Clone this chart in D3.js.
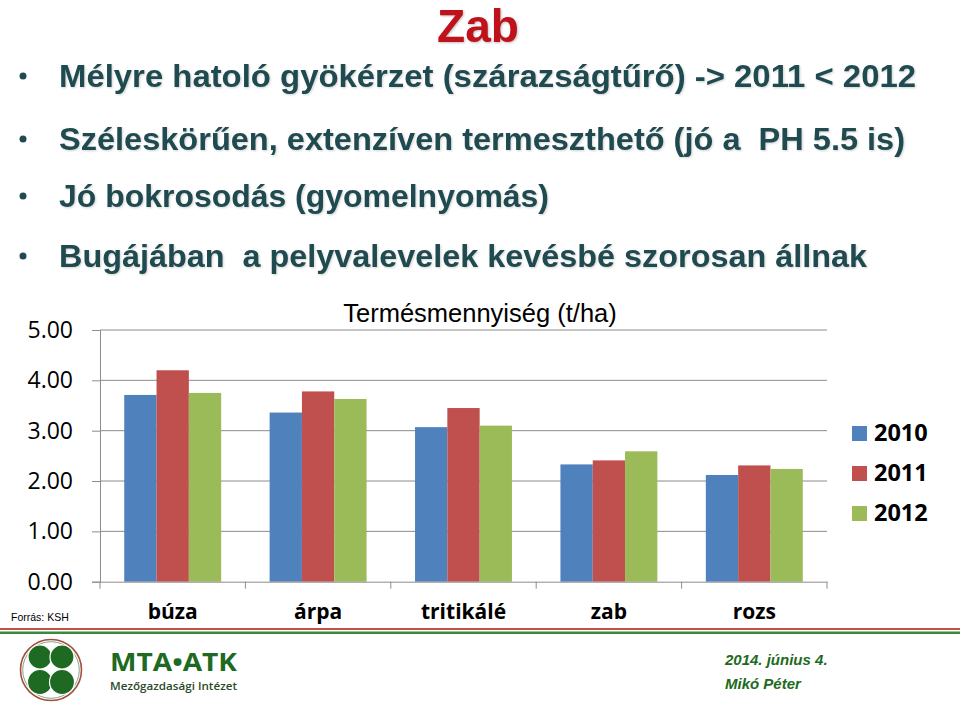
<!DOCTYPE html>
<html>
<head>
<meta charset="utf-8">
<script src="https://cdnjs.cloudflare.com/ajax/libs/d3/7.8.5/d3.min.js"></script>
<style>
  html, body { margin: 0; padding: 0; background: #fff; }
  svg { display: block; }
</style>
</head>
<body>
<svg id="chart" width="960" height="705"></svg>
<script>
// ---- data ----
const categories = ["búza", "árpa", "tritikálé", "zab", "rozs"];
const years = ["2010", "2011", "2012"];
const v2010 = [3.71, 3.36, 3.07, 2.33, 2.12];
const v2011 = [4.20, 3.78, 3.45, 2.41, 2.31];
const v2012 = [3.75, 3.63, 3.10, 2.59, 2.24];
const yTicks = [0, 1, 2, 3, 4, 5];
const colors = ["#4F81BD", "#C0504D", "#9BBB59"];
const chartTitle = "Termésmennyiség (t/ha)";
const slideTitle = "Zab";
const bullets = [
  "Mélyre hatoló gyökérzet (szárazságtűrő) -> 2011 < 2012",
  "Széleskörűen, extenzíven termeszthető (jó a  PH 5.5 is)",
  "Jó bokrosodás (gyomelnyomás)",
  "Bugájában  a pelyvalevelek kevésbé szorosan állnak"
];
const source = "Forrás: KSH";

const seriesValues = [v2010, v2011, v2012];

const svg = d3.select("#chart");

// ---- slide title ----
svg.append("text")
  .attr("x", 478).attr("y", 42)
  .attr("text-anchor", "middle")
  .style("font-family", "'Liberation Sans', Arial, sans-serif")
  .style("font-weight", "bold")
  .style("font-size", "46px")
  .style("fill", "#C0121A")
  .style("filter", "drop-shadow(1px 1px 1px rgba(0,0,0,0.25))")
  .text(slideTitle);

// ---- bullets ----
const bulletY = [87, 150, 207, 267];
const bulletW = [857, 846, 490, 808];
bullets.forEach((b, i) => {
  svg.append("circle")
    .attr("cx", 23).attr("cy", bulletY[i] - 11).attr("r", 3.5)
    .style("fill", "#1f4a4f");
  svg.append("text")
    .attr("x", 59).attr("y", bulletY[i])
    .attr("textLength", bulletW[i])
    .attr("lengthAdjust", "spacingAndGlyphs")
    .style("white-space", "pre")
    .style("font-family", "'Liberation Sans', Arial, sans-serif")
    .style("font-weight", "bold")
    .style("font-size", "32px")
    .style("fill", "#1f4a4f")
    .style("filter", "drop-shadow(1px 1px 1px rgba(0,0,0,0.18))")
    .text(b);
});

// ---- chart ----
const plotLeft = 100, plotRight = 827, plotTop = 330, plotBottom = 581.7;

const x0 = d3.scaleBand().domain(categories).range([plotLeft, plotRight]).padding(0);
const x1 = d3.scaleBand().domain(years).range([0, x0.bandwidth()]).paddingInner(0).paddingOuter(0.75);
const y = d3.scaleLinear().domain([0, 5]).range([plotBottom, plotTop]);

// gridlines
svg.append("g")
  .selectAll("line")
  .data(yTicks.filter(t => t > 0))
  .join("line")
  .attr("x1", plotLeft).attr("x2", plotRight)
  .attr("y1", d => y(d)).attr("y2", d => y(d))
  .style("stroke", "#8c8c8c").style("stroke-width", 1);

// bars
const groups = svg.append("g")
  .selectAll("g")
  .data(categories)
  .join("g")
  .attr("transform", d => `translate(${x0(d)},0)`);

groups.selectAll("rect")
  .data((c, ci) => years.map((yr, si) => ({ yr, si, v: seriesValues[si][ci] })))
  .join("rect")
  .attr("x", d => x1(d.yr))
  .attr("width", x1.bandwidth())
  .attr("y", d => y(d.v))
  .attr("height", d => y(0) - y(d.v))
  .style("fill", d => colors[d.si]);

// y axis
const yAxis = svg.append("g")
  .attr("transform", `translate(${plotLeft},0)`)
  .call(d3.axisLeft(y).tickValues(yTicks).tickFormat(d3.format(".2f")).tickSize(8).tickPadding(19));
yAxis.select(".domain").style("stroke", "#8c8c8c");
yAxis.selectAll(".tick line").style("stroke", "#8c8c8c");
yAxis.selectAll(".tick text")
  .style("font-family", "'Open Sans', sans-serif")
  .style("font-size", "23px")
  .style("fill", "#000");

// x axis
const xAxis = svg.append("g")
  .attr("transform", `translate(0,${plotBottom})`)
  .call(d3.axisBottom(x0).tickSize(0).tickPadding(22));
xAxis.select(".domain").style("stroke", "#8c8c8c");
xAxis.selectAll(".tick text")
  .style("font-family", "'Open Sans', sans-serif")
  .style("font-weight", "bold")
  .style("font-size", "21px")
  .style("fill", "#000");
// category boundary ticks
const bounds = categories.map(c => x0(c)).concat([x0.range()[1]]);
svg.append("g").selectAll("line")
  .data(bounds)
  .join("line")
  .attr("x1", d => d).attr("x2", d => d)
  .attr("y1", plotBottom).attr("y2", plotBottom + 7)
  .style("stroke", "#8c8c8c");

// chart title
svg.append("text")
  .attr("x", 480).attr("y", 322)
  .attr("text-anchor", "middle")
  .style("font-family", "'Liberation Sans', Arial, sans-serif")
  .style("font-size", "25.5px")
  .style("fill", "#000")
  .text(chartTitle);

// legend
const legend = svg.append("g");
years.forEach((yr, i) => {
  legend.append("rect")
    .attr("x", 852).attr("y", 426 + i * 40)
    .attr("width", 15).attr("height", 15)
    .style("fill", colors[i]);
  legend.append("text")
    .attr("x", 874).attr("y", 441 + i * 40)
    .style("font-family", "'Open Sans', sans-serif")
    .style("font-weight", "bold")
    .style("font-size", "23.5px")
    .style("fill", "#000")
    .text(yr);
});

// source
svg.append("text")
  .attr("x", 11).attr("y", 621)
  .style("font-family", "'Liberation Sans', Arial, sans-serif")
  .style("font-size", "10.5px")
  .style("fill", "#000")
  .text(source);

// footer lines
svg.append("rect").attr("x", 0).attr("y", 628).attr("width", 960).attr("height", 2).style("fill", "#c0504d");
svg.append("rect").attr("x", 0).attr("y", 631.5).attr("width", 960).attr("height", 2.5).style("fill", "#3a8a3a");

// logo
const logo = svg.append("g");
logo.append("circle").attr("cx", 51).attr("cy", 670).attr("r", 30.5)
  .style("fill", "none").style("stroke", "#a0503c").style("stroke-width", 1.6);
logo.append("circle").attr("cx", 51).attr("cy", 670).attr("r", 28.3)
  .style("fill", "none").style("stroke", "#6a8a6a").style("stroke-width", 0.8);
[[40, 657, 12], [62, 657, 12], [40, 682, 12.5], [62, 682, 12.5]].forEach(([cx, cy, r]) => {
  logo.append("circle").attr("cx", cx).attr("cy", cy).attr("r", r)
    .style("fill", "#1e6a22").style("stroke", "#fff").style("stroke-width", 1.2);
});
logo.append("text")
  .attr("x", 110).attr("y", 671)
  .attr("textLength", 127).attr("lengthAdjust", "spacingAndGlyphs")
  .style("font-family", "'Open Sans', sans-serif")
  .style("font-weight", "bold")
  .style("font-size", "25px")
  .style("fill", "#1e6a22")
  .text("MTA•ATK");
logo.append("text")
  .attr("x", 110).attr("y", 690)
  .attr("textLength", 127).attr("lengthAdjust", "spacingAndGlyphs")
  .style("font-family", "'Open Sans', sans-serif")
  .style("font-weight", "600")
  .style("font-size", "10.5px")
  .style("fill", "#2a4a2a")
  .text("Mezőgazdasági Intézet");

// date / author
svg.append("text")
  .attr("x", 725).attr("y", 665)
  .style("font-family", "'Liberation Sans', Arial, sans-serif")
  .style("font-weight", "bold").style("font-style", "italic")
  .style("font-size", "15px")
  .style("fill", "#1e6a22")
  .text("2014. június 4.");
svg.append("text")
  .attr("x", 725).attr("y", 689)
  .style("font-family", "'Liberation Sans', Arial, sans-serif")
  .style("font-weight", "bold").style("font-style", "italic")
  .style("font-size", "15px")
  .style("fill", "#1e6a22")
  .text("Mikó Péter");
</script>
</body>
</html>
